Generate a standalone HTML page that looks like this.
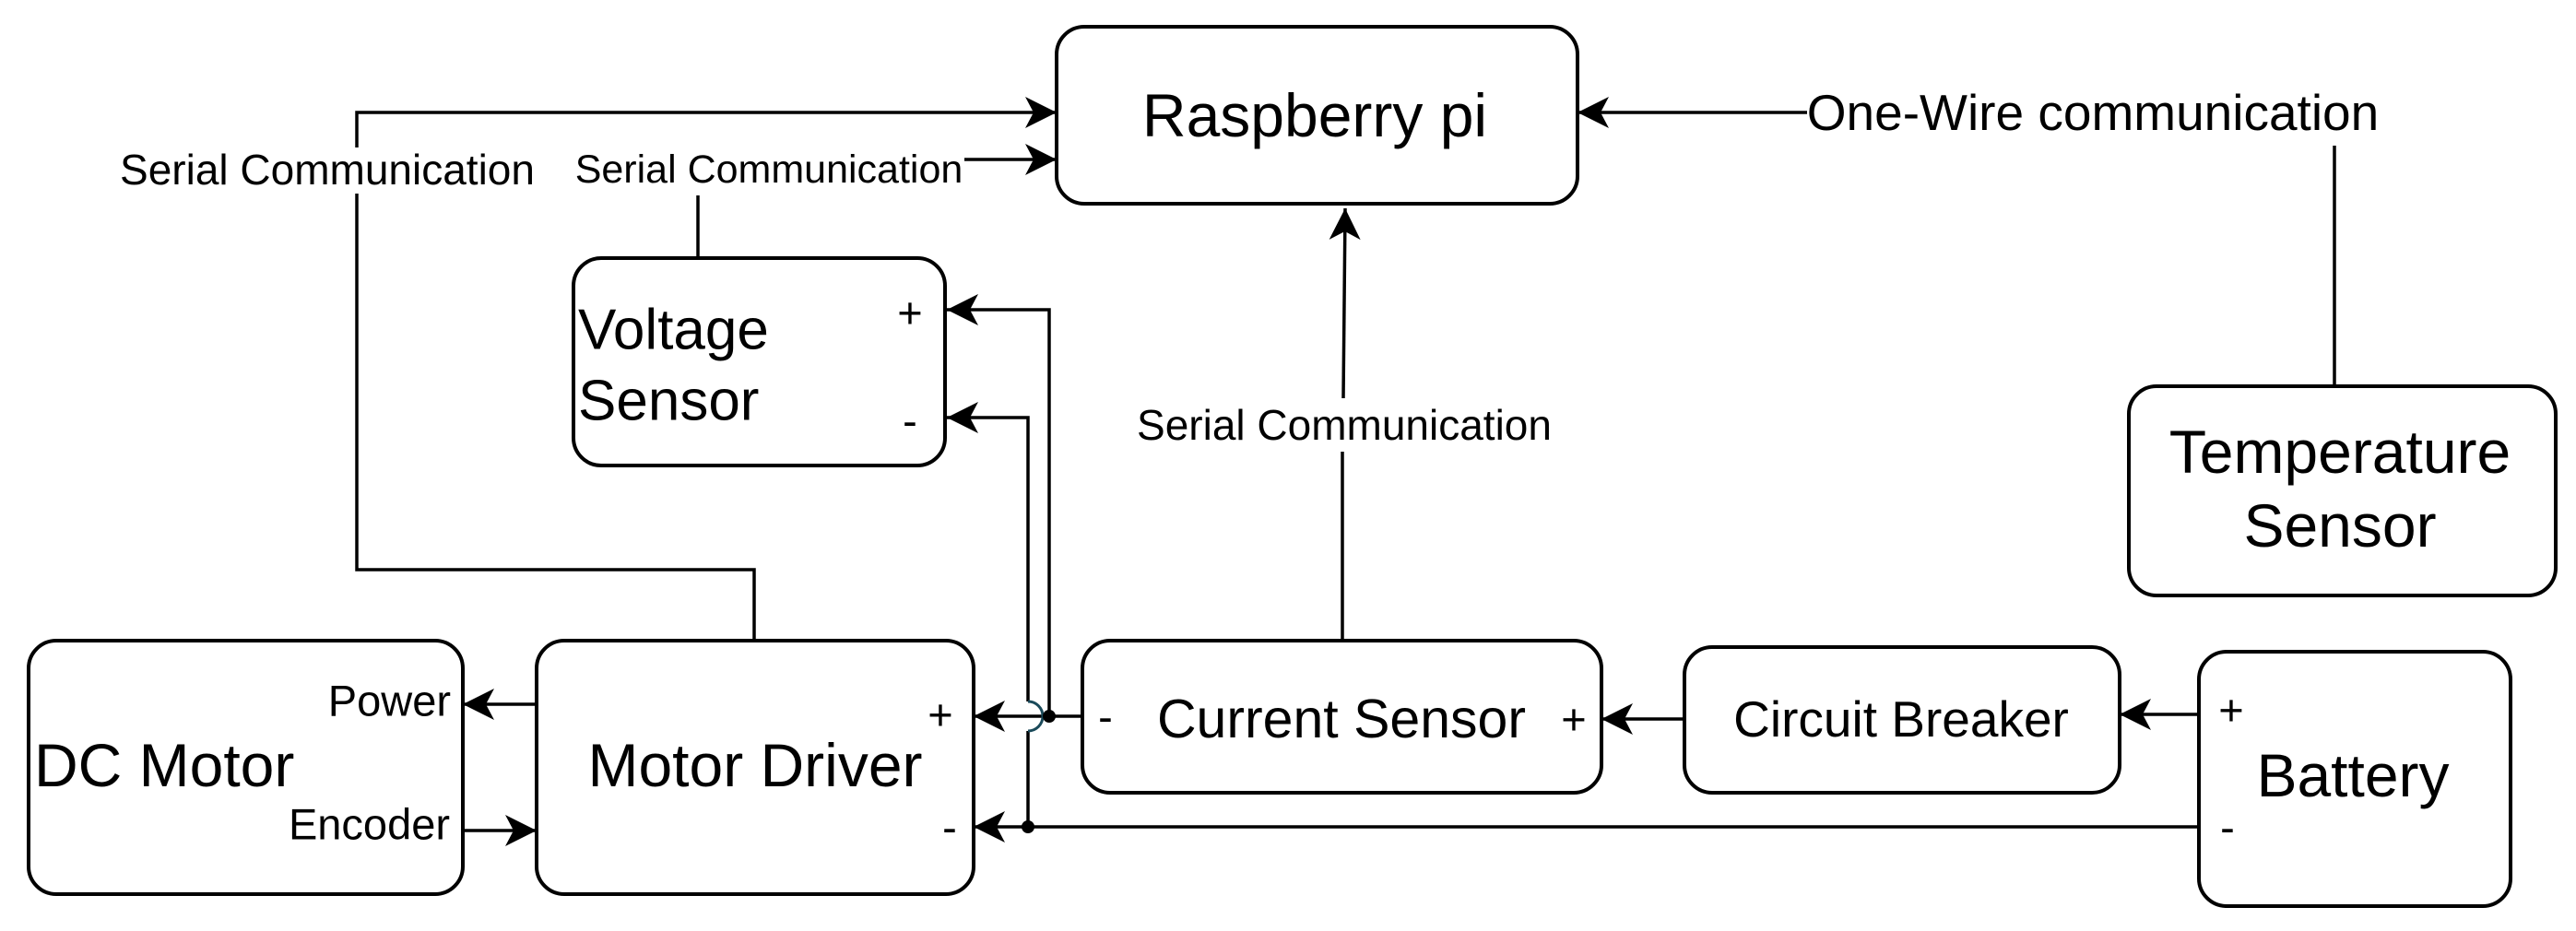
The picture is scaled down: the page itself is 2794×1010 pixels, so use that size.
<!DOCTYPE html>
<html><head><meta charset="utf-8"><style>
html,body{margin:0;padding:0;background:#fff;}
svg{display:block}
text{font-family:"Liberation Sans",Arial,sans-serif;fill:#000;dominant-baseline:central}
</style></head><body>
<svg width="2794" height="1010" viewBox="0 0 2794 1010" xmlns="http://www.w3.org/2000/svg">
<defs>
<marker id="a" markerUnits="userSpaceOnUse" markerWidth="40" markerHeight="40" refX="34" refY="17" orient="auto">
<path d="M0,0 L34,17 L0,34 L9,17 z" fill="#000"/>
</marker>
</defs>
<g fill="none" stroke="#000" stroke-width="4">
<rect x="1146" y="29" width="565" height="192" rx="30"/>
<rect x="622" y="280" width="403" height="225" rx="30"/>
<rect x="31" y="695" width="471" height="275" rx="30"/>
<rect x="582" y="695" width="474" height="275" rx="30"/>
<rect x="1174" y="695" width="563" height="165" rx="30"/>
<rect x="1827" y="702" width="472" height="158" rx="30"/>
<rect x="2385" y="707" width="338" height="276" rx="30"/>
<rect x="2309" y="419" width="463" height="227" rx="30"/>
</g>
<g fill="none" stroke="#000" stroke-width="3.5">
<polyline points="818,695 818,618 387,618 387,210"/>
<polyline points="387,160 387,122 1146,122" marker-end="url(#a)"/>
<line x1="757" y1="280" x2="757" y2="212"/>
<line x1="1046" y1="173" x2="1146" y2="173" marker-end="url(#a)"/>
<line x1="1456" y1="695" x2="1456" y2="490"/>
<line x1="1457" y1="432" x2="1459" y2="226" marker-end="url(#a)"/>
<line x1="2532" y1="419" x2="2532" y2="158"/>
<line x1="1960" y1="122" x2="1711" y2="122" marker-end="url(#a)"/>
<line x1="2385" y1="775" x2="2299" y2="775" marker-end="url(#a)"/>
<line x1="1827" y1="780" x2="1737" y2="780" marker-end="url(#a)"/>
<line x1="1174" y1="777" x2="1056" y2="777" marker-end="url(#a)"/>
<polyline points="1138,777 1138,336 1027,336" marker-end="url(#a)"/>
<line x1="2385" y1="897" x2="1056" y2="897" marker-end="url(#a)"/>
<polyline points="1115,897 1115,793"/>
<polyline points="1115,761 1115,453 1027,453" marker-end="url(#a)"/>
<line x1="582" y1="764" x2="502" y2="764" marker-end="url(#a)"/>
<line x1="502" y1="901" x2="582" y2="901" marker-end="url(#a)"/>
</g>
<path d="M1115,761 A16,16 0 0 1 1115,793" fill="none" stroke="#1a4a5a" stroke-width="3"/>
<circle cx="1138" cy="777" r="7"/>
<circle cx="1115" cy="897" r="7"/>

<text x="1426" y="125" font-size="66" text-anchor="middle">Raspberry pi</text>
<text x="627" y="358" font-size="62">Voltage</text>
<text x="627" y="435" font-size="62">Sensor</text>
<text x="987" y="339" font-size="47" text-anchor="middle">+</text>
<text x="987" y="456" font-size="47" text-anchor="middle">-</text>
<text x="37" y="830" font-size="66">DC Motor</text>
<text x="489" y="760" font-size="47" text-anchor="end">Power</text>
<text x="488" y="894" font-size="47" text-anchor="end">Encoder</text>
<text x="819" y="830" font-size="66" text-anchor="middle">Motor Driver</text>
<text x="1020" y="775" font-size="47" text-anchor="middle">+</text>
<text x="1030" y="897" font-size="47" text-anchor="middle">-</text>
<text x="1199" y="777" font-size="47" text-anchor="middle">-</text>
<text x="1455" y="780" font-size="59" text-anchor="middle">Current Sensor</text>
<text x="1707" y="780" font-size="47" text-anchor="middle">+</text>
<text x="2062" y="780" font-size="55" text-anchor="middle">Circuit Breaker</text>
<text x="2420" y="770" font-size="47" text-anchor="middle">+</text>
<text x="2552" y="841" font-size="66" text-anchor="middle">Battery</text>
<text x="2416" y="897" font-size="47" text-anchor="middle">-</text>
<text x="2538" y="490" font-size="66" text-anchor="middle">Temperature</text>
<text x="2538" y="570" font-size="66" text-anchor="middle">Sensor</text>
<text x="355" y="184" font-size="46" text-anchor="middle">Serial Communication</text>
<text x="834" y="184" font-size="43" text-anchor="middle">Serial Communication</text>
<text x="1458" y="461" font-size="46" text-anchor="middle">Serial Communication</text>
<text x="2270" y="122" font-size="55" text-anchor="middle">One-Wire communication</text>
</svg>
</body></html>
